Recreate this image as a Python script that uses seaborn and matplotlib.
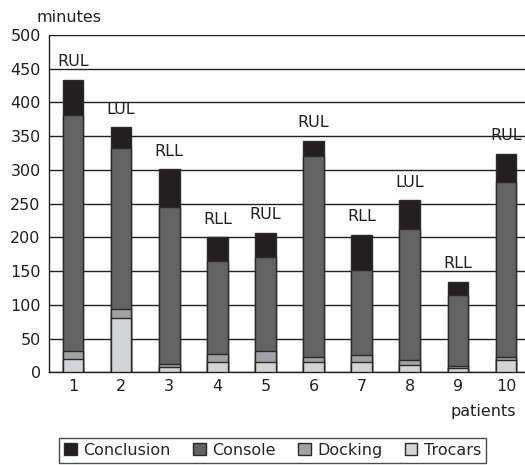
import numpy as np
import pandas as pd
import seaborn as sns
import matplotlib.pyplot as plt
from matplotlib.patches import Patch
from matplotlib.ticker import MultipleLocator

patients = ['1', '2', '3', '4', '5', '6', '7', '8', '9', '10']
lobes = ['RUL', 'LUL', 'RLL', 'RLL', 'RUL', 'RUL', 'RLL', 'LUL', 'RLL', 'RUL']
trocars = [19, 80, 8, 16, 16, 15, 15, 11, 7, 18]
docking = [13, 14, 4, 11, 15, 8, 10, 7, 3, 4]
console = [349, 239, 233, 138, 140, 297, 127, 195, 105, 260]
conclusion = [53, 30, 56, 35, 36, 23, 52, 42, 19, 42]

colors = {'Conclusion': '#231f20', 'Console': '#636363',
          'Docking': '#a2a2a4', 'Trocars': '#d3d4d5'}

df = pd.DataFrame({'patient': patients, 'Trocars': trocars, 'Docking': docking,
                   'Console': console, 'Conclusion': conclusion})
# cumulative heights so bars can be overlaid back to front
df['top_trocars'] = df['Trocars']
df['top_docking'] = df['top_trocars'] + df['Docking']
df['top_console'] = df['top_docking'] + df['Console']
df['top_conclusion'] = df['top_console'] + df['Conclusion']

sns.set_style('white')
plt.rcParams['font.family'] = ['DejaVu Sans']

fig = plt.figure(figsize=(5.25, 4.65), dpi=100)
ax = fig.add_axes([49 / 525, 1 - 372.3 / 465, 481 / 525, 337.3 / 465])

for col, name in [('top_conclusion', 'Conclusion'), ('top_console', 'Console'),
                  ('top_docking', 'Docking'), ('top_trocars', 'Trocars')]:
    sns.barplot(data=df, x='patient', y=col, color=colors[name], width=0.43,
                edgecolor='#2a2a2a', linewidth=1.0, saturation=1, ax=ax, zorder=3)

for i, (lab, tot) in enumerate(zip(lobes, df['top_conclusion'])):
    ax.text(i, tot + 20, lab, ha='center', va='baseline', fontsize=11.5,
            color='#231f20', zorder=5)

ax.set_ylim(0, 500)
ax.set_xlim(-0.5, 9.5)
ax.yaxis.set_major_locator(MultipleLocator(50))
ax.grid(axis='y', color='#231f20', linewidth=1.0, zorder=0)
ax.set_axisbelow(True)
ax.set_xlabel('')
ax.set_ylabel('')
for s in ['top', 'right']:
    ax.spines[s].set_visible(False)
for s in ['left', 'bottom']:
    ax.spines[s].set_color('#231f20')
    ax.spines[s].set_linewidth(1.0)

ax.set_xticks(np.arange(-0.5, 10, 1), minor=True)
ax.tick_params(axis='x', which='major', length=0, labelsize=11.5, pad=5, colors='#231f20')
ax.tick_params(axis='x', which='minor', length=4, width=1, direction='out', color='#231f20')
ax.tick_params(axis='y', length=4, width=1, direction='out', labelsize=11.5, pad=2,
               colors='#231f20')

fig.text(37 / 525, 1 - 18 / 465, 'minutes', fontsize=11.5, va='center', ha='left', color='#231f20')
fig.text(516 / 525, 1 - 411 / 465, 'patients', fontsize=11.5, va='center', ha='right', color='#231f20')

handles = [Patch(facecolor=colors[n], edgecolor='#2a2a2a', label=n)
           for n in ['Conclusion', 'Console', 'Docking', 'Trocars']]
leg = fig.legend(handles=handles, loc='upper center', bbox_to_anchor=(272.5 / 525, 1 - 438 / 465),
                 ncol=4, fontsize=11.5, frameon=True, fancybox=False, handlelength=0.8,
                 handleheight=0.8, handletextpad=0.4, columnspacing=1.4,
                 borderpad=0.3, borderaxespad=0, edgecolor='#231f20')
leg.get_frame().set_linewidth(1.0)

fig.savefig('out.png', dpi=100)
